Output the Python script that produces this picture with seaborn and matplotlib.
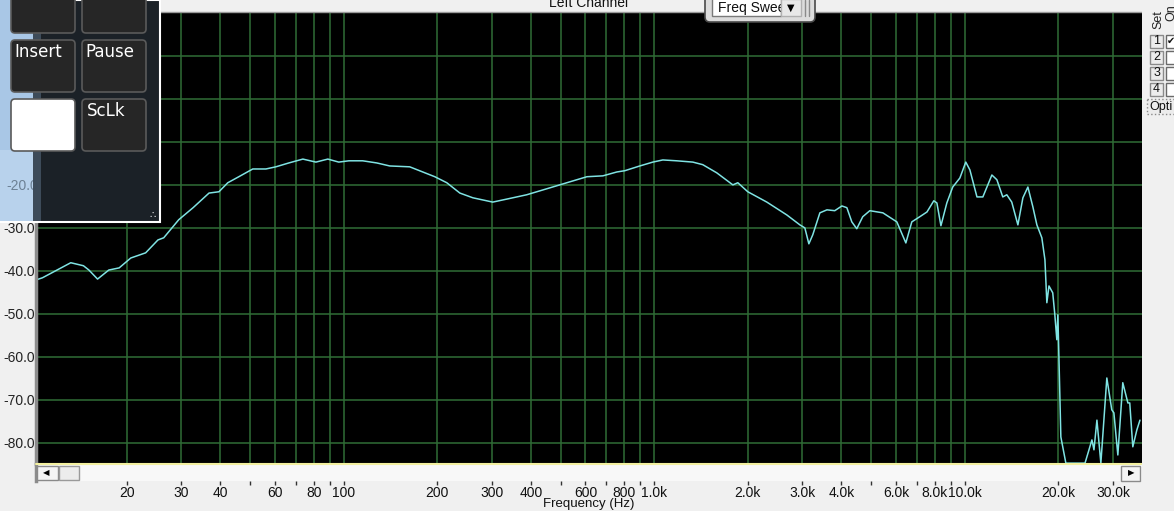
import seaborn as sns
import matplotlib.pyplot as plt
import matplotlib.patches as mpatches
import pandas as pd

# frequency response (Hz, dB)
freq_hz = [10.2, 10.7, 13.2, 14.5, 15.1, 16.1, 17.5, 18.9, 20.6, 23.0,
           25.2, 26.3, 29.4, 32.7, 36.8, 39.6, 42.3, 45.9, 50.9, 56.1,
           60.4, 66.5, 73.8, 81.3, 88.8, 96.3, 103.8, 115, 127.7, 140.6,
           163, 179.6, 196.3, 214.6, 236.4, 260.3, 301.7, 335, 388, 450.6,
           522.6, 606.6, 682.7, 757, 803.5, 897.7, 989, 1065, 1181, 1330,
           1432, 1589, 1790, 1857, 2000, 2303, 2672, 2943, 3053, 3145,
           3238, 3413, 3597, 3811, 4018, 4169, 4325, 4487, 4690, 4943,
           5445, 6039, 6457, 6748, 7161, 7551, 7943, 8128, 8375, 8750,
           9141, 9638, 10070, 10380, 10940, 11430, 12220, 12680, 13250, 13650,
           14160, 14820, 15380, 15960, 16560, 17060, 17700, 18110, 18370, 18660,
           19190, 19490, 19780, 19930, 20090, 20380, 21150, 24380, 25660, 26050,
           26630, 27420, 28660, 29730, 30200, 31100, 32260, 33500, 33970, 34750,
           35800, 36640]
level_db = [-42.1, -41.6, -38.1, -38.8, -39.8, -41.9, -39.8, -39.3, -37.0, -35.8,
            -32.8, -32.3, -28.1, -25.3, -21.9, -21.6, -19.5, -18.1, -16.3, -16.3,
            -15.8, -14.9, -14.0, -14.7, -14.0, -14.7, -14.4, -14.4, -14.9, -15.6,
            -15.8, -17.0, -18.1, -19.5, -21.9, -23.0, -24.0, -23.3, -22.3, -20.9,
            -19.5, -18.1, -17.9, -17.0, -16.7, -15.6, -14.7, -14.2, -14.4, -14.7,
            -15.3, -17.2, -20.0, -19.5, -21.6, -24.0, -27.0, -29.3, -30.0, -33.7,
            -31.6, -26.5, -25.8, -26.0, -24.9, -25.3, -28.6, -30.2, -27.4, -26.0,
            -26.5, -28.6, -33.5, -28.6, -27.4, -26.3, -23.7, -24.2, -29.5, -24.2,
            -20.5, -18.4, -14.7, -16.5, -22.8, -22.8, -17.7, -18.8, -22.8, -22.3,
            -24.0, -29.3, -23.0, -20.5, -25.1, -29.3, -32.3, -37.4, -47.4, -43.5,
            -45.1, -50.2, -56.0, -50.2, -60.0, -78.6, -84.7, -84.7, -79.3, -81.6,
            -74.7, -84.7, -64.9, -72.3, -73.0, -82.8, -66.0, -70.7, -70.7, -80.9,
            -77.0, -74.7]

grid_freqs = [20, 30, 40, 50, 60, 70, 80, 90, 100, 200, 300, 400, 500, 600, 700, 800, 900,
              1000, 2000, 3000, 4000, 5000, 6000, 7000, 8000, 9000, 10000, 20000, 30000]
label_freqs = [20, 30, 40, 60, 80, 100, 200, 300, 400, 600, 800, 1000,
               2000, 3000, 4000, 6000, 8000, 10000, 20000, 30000]
label_texts = ["20", "30", "40", "60", "80", "100", "200", "300", "400", "600", "800", "1.0k",
               "2.0k", "3.0k", "4.0k", "6.0k", "8.0k", "10.0k", "20.0k", "30.0k"]
minor_freqs = [50, 70, 90, 500, 700, 900, 5000, 7000, 9000]
db_ticks = [-80, -70, -60, -50, -40, -30, -20, -10, 0, 10]
# the labels above -30 sit under the floating keyboard window
db_labels = ["-80.0", "-70.0", "-60.0", "-50.0", "-40.0", "-30.0", "", "", "", ""]

df = pd.DataFrame({"freq": freq_hz, "db": level_db})

sns.set_theme(style="dark")
plt.rcParams['font.family'] = ['Liberation Sans', 'DejaVu Sans']

W, H = 1174, 511
bg = "#f0f0f0"
grid_green = "#2f6d36"
trace = "#7fe3e3"


def rect(x0, y0, x1, y1):
    return [x0 / W, 1 - y1 / H, (x1 - x0) / W, (y1 - y0) / H]


fig = plt.figure(figsize=(W / 100, H / 100), dpi=100, facecolor=bg)

ax = fig.add_axes(rect(36, 12, 1142, 464))
ax.set_facecolor("black")
sns.lineplot(data=df, x="freq", y="db", ax=ax, color=trace, lw=1.1)
ax.set_xscale("log")
ax.set_xlim(10.2, 37200)
ax.set_ylim(-84.9, 20.2)
ax.set_xticks(grid_freqs)
ax.set_xticks([], minor=True)
ax.tick_params(axis="x", length=0, labelbottom=False)
ax.set_yticks(db_ticks, labels=db_labels)
ax.tick_params(axis="y", length=0, pad=1, labelsize=10, labelcolor="#222222")
ax.grid(True, color=grid_green, lw=1.1)
ax.set_xlabel("")
ax.set_ylabel("")
for s in ["top", "right", "bottom"]:
    ax.spines[s].set_visible(False)
ax.spines["left"].set_color("#8c8c8c")
ax.spines["left"].set_linewidth(2.5)

# scrollbar strip carrying the frequency ticks
sb = fig.add_axes(rect(36, 464, 1142, 481))
sb.set_facecolor("#f8f8f8")
sb.set_xscale("log")
sb.set_xlim(10.2, 37200)
sb.set_ylim(0, 1)
sb.set_yticks([])
sb.set_xticks(label_freqs, labels=label_texts)
sb.set_xticks(minor_freqs, minor=True)
sb.set_xticklabels([], minor=True)
sb.tick_params(axis="x", which="both", direction="out", length=3, width=1,
               color="#333333", pad=0.5, labelsize=10, labelcolor="#111111", bottom=True)
sb.grid(False)
sb.set_xlabel("Frequency (Hz)", fontsize=9.5, labelpad=-1.5, color="#111111")
for s in ["top", "right", "bottom"]:
    sb.spines[s].set_visible(False)
sb.spines["left"].set_color("#8c8c8c")
sb.spines["left"].set_linewidth(2.5)

# window chrome drawn in pixel space
ov = fig.add_axes([0, 0, 1, 1])
ov.set_xlim(0, W)
ov.set_ylim(H, 0)
ov.axis("off")
ov.patch.set_alpha(0)

ov.plot([36, 1142], [464.5, 464.5], color="#f3f0a0", lw=1.5)
ov.add_patch(mpatches.Rectangle((37, 466), 21, 14, fc="#f4f4f4", ec="#8a8a8a", lw=1))
ov.add_patch(mpatches.Rectangle((59, 466), 20, 14, fc="#ececec", ec="#9a9a9a", lw=1))
ov.text(46, 473, "\u25c0", fontsize=6, ha="center", va="center", color="black", family="DejaVu Sans")
ov.add_patch(mpatches.Rectangle((1121, 466), 19, 15, fc="#f4f4f4", ec="#8a8a8a", lw=1))
ov.text(1131, 473, "\u25b6", fontsize=6, ha="center", va="center", color="black", family="DejaVu Sans")

ov.add_patch(mpatches.Rectangle((0, 0), 1142, 12, fc=bg, ec="none"))
ov.plot([36, 1142], [12.5, 12.5], color="#9a9a9a", lw=1)
ov.text(589, 3, "Left Channel", fontsize=10, ha="center", va="center", color="#111111")

# Freq Sweep dropdown
ov.add_patch(mpatches.FancyBboxPatch((705, -8), 110, 30, boxstyle="round,pad=0,rounding_size=5",
                                     fc="#dcdcdc", ec="#4a4a4a", lw=1.2, zorder=3))
field = mpatches.Rectangle((712, -2), 69, 18, fc="white", ec="#7a7a7a", lw=1, zorder=3)
ov.add_patch(field)
sweep = ov.text(718, 8, "Freq Sweep", fontsize=10, ha="left", va="center", color="#111111", zorder=4)
sweep.set_clip_path(field)
ov.add_patch(mpatches.Rectangle((781, -1), 20, 17, fc="#e8e8e8", ec="#b0b0b0", lw=1, zorder=5))
ov.text(791, 7.5, "\u25bc", fontsize=7, ha="center", va="center", color="black",
        family="DejaVu Sans", zorder=6)
ov.plot([805, 805], [0, 16], color="#8a8a8a", lw=1, zorder=6)
ov.plot([809, 809], [0, 16], color="#8a8a8a", lw=1, zorder=6)

# right side panel
ov.add_patch(mpatches.Rectangle((1142, 0), 32, H, fc=bg, ec="none", zorder=3))
ov.text(1158, 20, "Set", fontsize=9, rotation=90, ha="center", va="center", color="#222222", zorder=4)
ov.text(1171, 13, "On", fontsize=9, rotation=90, ha="center", va="center", color="#222222", zorder=4)
for i, n in enumerate(["1", "2", "3", "4"]):
    y0 = 35 + i * 16
    ov.add_patch(mpatches.Rectangle((1150, y0), 13, 13, fc="#ececec", ec="#8a8a8a", lw=1, zorder=4))
    ov.text(1156.5, y0 + 6.5, n, fontsize=9, ha="center", va="center", color="#111111", zorder=5)
    ov.add_patch(mpatches.Rectangle((1166, y0), 10, 13, fc="white", ec="#6a6a6a", lw=1, zorder=4))
ov.text(1171, 41, "\u2714", fontsize=7, ha="center", va="center", color="#111111",
        family="DejaVu Sans", zorder=5)
ov.add_patch(mpatches.Rectangle((1147, 99), 30, 15, fc="#ececec", ec="#8a8a8a", lw=1, ls=":", zorder=4))
ov.text(1149, 107, "Opti", fontsize=9, ha="left", va="center", color="#111111", zorder=5)

# on-screen keyboard window covering the upper left
ov.add_patch(mpatches.Rectangle((0, 0), 160, 222, fc="#1b2127", ec="white", lw=1.5, zorder=7))
ov.add_patch(mpatches.Rectangle((0, 0), 33, 150, fc="#a9c7e6", ec="none", zorder=7))
ov.add_patch(mpatches.Rectangle((0, 150), 33, 71, fc="#b8d2ec", ec="none", zorder=7))
ov.add_patch(mpatches.Rectangle((33, 0), 8, 221, fc="#55687c", ec="none", alpha=0.6, zorder=7))
for bx, by, fc in [(11, -6, "#262626"), (82, -6, "#262626"), (11, 40, "#262626"),
                   (82, 40, "#262626"), (11, 99, "white"), (82, 99, "#262626")]:
    ov.add_patch(mpatches.FancyBboxPatch((bx, by), 64, 52 if by > 0 else 39,
                                         boxstyle="round,pad=0,rounding_size=4",
                                         fc=fc, ec="#5a5a5a", lw=1.2, zorder=8))
ov.text(14, 52, "Insert", fontsize=12, ha="left", va="center", color="white",
        family="DejaVu Sans", zorder=9)
ov.text(85, 52, "Pause", fontsize=12, ha="left", va="center", color="white",
        family="DejaVu Sans", zorder=9)
ov.text(87, 111, "ScLk", fontsize=12, ha="left", va="center", color="white",
        family="DejaVu Sans", zorder=9)
ov.text(6, 186, "-20.0", fontsize=10, ha="left", va="center", color="#3a4a5a", alpha=0.6, zorder=9)
ov.text(153, 215, "\u2234", fontsize=7, ha="center", va="center", color="white",
        family="DejaVu Sans", zorder=9)

fig.savefig("out.png", dpi=100, facecolor=bg)
